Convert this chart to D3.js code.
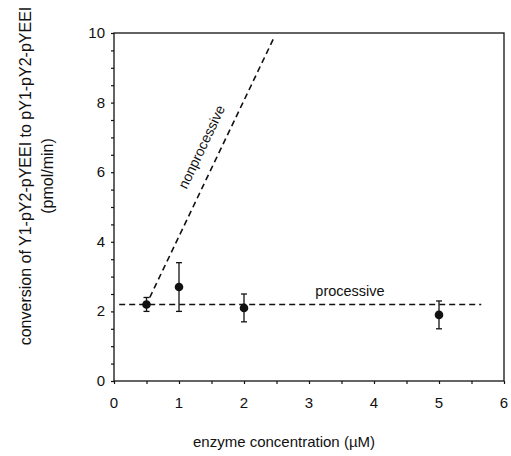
<!DOCTYPE html>
<html>
<head>
<meta charset="utf-8">
<script src="https://cdn.jsdelivr.net/npm/d3@7"></script>
<style>
  body { margin: 0; background: #fff; }
  svg text { font-family: "Liberation Sans", Arial, sans-serif; fill: #111; }
</style>
</head>
<body>
<div id="chart"></div>
<script>
// measured points (enzyme conc. uM, rate pmol/min, error)
const concentrations = [0.5, 1, 2, 5];
const rates = [2.2, 2.7, 2.1, 1.9];
const errors = [0.2, 0.7, 0.4, 0.4];

// model lines
const processiveLine = [[0.08, 2.2], [5.65, 2.2]];
const nonprocessiveLine = [[0.55, 2.4], [2.47, 9.9]];

const xTicks = [0, 1, 2, 3, 4, 5, 6];
const yTicks = [0, 2, 4, 6, 8, 10];

const width = 511, height = 456;
const margin = { left: 114, right: 7, top: 33, bottom: 75 };

const svg = d3.select("#chart").append("svg")
  .attr("width", width)
  .attr("height", height);

const x = d3.scaleLinear().domain([0, 6]).range([margin.left, width - margin.right]);
const y = d3.scaleLinear().domain([0, 10]).range([height - margin.bottom, margin.top]);

// frame
svg.append("rect")
  .attr("x", x(0)).attr("y", y(10))
  .attr("width", x(6) - x(0)).attr("height", y(0) - y(10))
  .attr("fill", "none").attr("stroke", "#111").attr("stroke-width", 1.3);

// x axis
const xAxis = svg.append("g").attr("transform", `translate(0,${y(0)})`);
xAxis.call(d3.axisBottom(x).tickValues(d3.range(0, 6.01, 0.5)).tickSize(3).tickFormat(""));
xAxis.selectAll(".domain").remove();
xAxis.selectAll("line").attr("stroke", "#111").attr("stroke-width", 1.2);
svg.append("g").selectAll("text").data(xTicks).enter().append("text")
  .attr("x", d => x(d)).attr("y", y(0) + 27)
  .attr("text-anchor", "middle").attr("font-size", 15)
  .text(d => d);

// y axis
const yAxis = svg.append("g").attr("transform", `translate(${x(0)},0)`);
yAxis.call(d3.axisLeft(y).tickValues(d3.range(0, 10.01, 0.5)).tickSize(3).tickFormat(""));
yAxis.selectAll(".domain").remove();
yAxis.selectAll("line").attr("stroke", "#111").attr("stroke-width", 1.2);
svg.append("g").selectAll("text").data(yTicks).enter().append("text")
  .attr("x", x(0) - 9).attr("y", d => y(d) + 5)
  .attr("text-anchor", "end").attr("font-size", 15)
  .text(d => d);

// dashed model lines
const line = d3.line().x(d => x(d[0])).y(d => y(d[1]));
[processiveLine, nonprocessiveLine].forEach(pts => {
  svg.append("path").datum(pts)
    .attr("d", line)
    .attr("fill", "none").attr("stroke", "#111")
    .attr("stroke-width", 1.6).attr("stroke-dasharray", "6,4");
});

// labels on lines
svg.append("text")
  .attr("x", 350).attr("y", 296)
  .attr("text-anchor", "middle").attr("font-size", 14.5)
  .text("processive");

const ang = Math.atan2(y(nonprocessiveLine[0][1]) - y(nonprocessiveLine[1][1]),
  x(nonprocessiveLine[1][0]) - x(nonprocessiveLine[0][0])) * 180 / Math.PI;
svg.append("text")
  .attr("transform", `translate(206,149) rotate(${-ang})`)
  .attr("text-anchor", "middle").attr("font-size", 14)
  .text("nonprocessive");

// error bars
const pts = concentrations.map((c, i) => ({ c, r: rates[i], e: errors[i] }));
const eb = svg.append("g").attr("stroke", "#111").attr("stroke-width", 1.3);
pts.forEach(d => {
  eb.append("line").attr("x1", x(d.c)).attr("x2", x(d.c))
    .attr("y1", y(d.r - d.e)).attr("y2", y(d.r + d.e));
  [d.r - d.e, d.r + d.e].forEach(v => {
    eb.append("line").attr("x1", x(d.c) - 3).attr("x2", x(d.c) + 3)
      .attr("y1", y(v)).attr("y2", y(v));
  });
});
svg.append("g").selectAll("circle").data(pts).enter().append("circle")
  .attr("cx", d => x(d.c)).attr("cy", d => y(d.r)).attr("r", 4.3)
  .attr("fill", "#111");

// axis titles
svg.append("text")
  .attr("x", 284).attr("y", 447)
  .attr("text-anchor", "middle").attr("font-size", 15)
  .text("enzyme concentration (\u00b5M)");

const yt = svg.append("text")
  .attr("transform", "translate(0,176) rotate(-90)")
  .attr("text-anchor", "middle").attr("font-size", 16);
yt.append("tspan").attr("x", 0).attr("y", 31).text("conversion of Y1-pY2-pYEEI to pY1-pY2-pYEEI");
yt.append("tspan").attr("x", 0).attr("y", 53).text("(pmol/min)");
</script>
</body>
</html>
